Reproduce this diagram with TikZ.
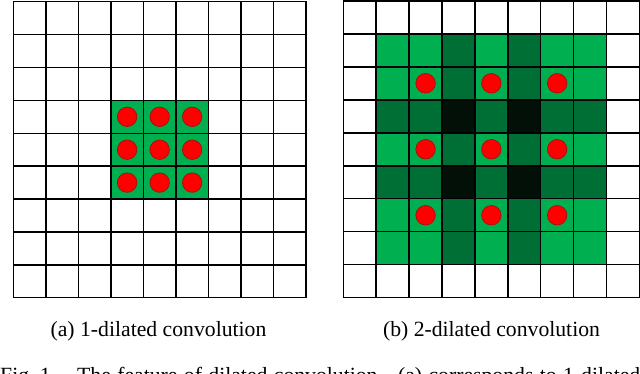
\documentclass[tikz,border=0pt]{standalone}
\usepackage{fontspec}
\setmainfont{Liberation Serif}
\definecolor{gL}{HTML}{00B050}
\definecolor{gD}{HTML}{006F35}
\definecolor{gB}{HTML}{031008}
\definecolor{dotred}{HTML}{FF0000}
\definecolor{dotedge}{HTML}{A01010}
\begin{document}
\begin{tikzpicture}[x=1pt,y=-1pt,
  gridline/.style={line width=1.5pt, black, line cap=rect},
  dot/.style={circle, fill=dotred, draw=dotedge, line width=0.7pt, minimum size=19.5pt, inner sep=0pt},
  caption/.style={font=\fontsize{21.7}{24}\selectfont, inner sep=0pt}]
\useasboundingbox (0,0) rectangle (640,373);
\fill[white] (0,0) rectangle (640,373);
% ---------- left grid ----------
\def\Lx{13.3}\def\Lw{32.52}\def\Ly{1.7}\def\Lh{32.89}
\fill[gL] (\Lx+3*\Lw,\Ly+3*\Lh) rectangle (\Lx+6*\Lw,\Ly+6*\Lh);
\foreach \i in {0,...,9}{
  \draw[gridline] (\Lx+\i*\Lw,\Ly) -- (\Lx+\i*\Lw,\Ly+9*\Lh);
  \draw[gridline] (\Lx,\Ly+\i*\Lh) -- (\Lx+9*\Lw,\Ly+\i*\Lh);
}
\foreach \r in {3,4,5}{
  \foreach \c in {3,4,5}{
    \node[dot] (a\r\c) at (\Lx+\c*\Lw+0.5*\Lw,\Ly+\r*\Lh+0.5*\Lh) {};
  }
}
% ---------- right grid ----------
\def\Rx{343.3}\def\Rw{32.9}\def\Ry{0.8}\def\Rh{32.99}
\fill[gL] (\Rx+1*\Rw,\Ry+1*\Rh) rectangle (\Rx+8*\Rw,\Ry+8*\Rh);
\foreach \k in {3,5}{
  \fill[gD] (\Rx+\k*\Rw,\Ry+1*\Rh) rectangle (\Rx+\k*\Rw+\Rw,\Ry+8*\Rh);
  \fill[gD] (\Rx+1*\Rw,\Ry+\k*\Rh) rectangle (\Rx+8*\Rw,\Ry+\k*\Rh+\Rh);
}
\foreach \r in {3,5}{
  \foreach \c in {3,5}{
    \fill[gB] (\Rx+\c*\Rw,\Ry+\r*\Rh) rectangle (\Rx+\c*\Rw+\Rw,\Ry+\r*\Rh+\Rh);
  }
}
\foreach \i in {0,...,9}{
  \draw[gridline] (\Rx+\i*\Rw,\Ry) -- (\Rx+\i*\Rw,\Ry+9*\Rh);
  \draw[gridline] (\Rx,\Ry+\i*\Rh) -- (\Rx+9*\Rw,\Ry+\i*\Rh);
}
\foreach \r in {2,4,6}{
  \foreach \c in {2,4,6}{
    \node[dot] (b\r\c) at (\Rx+\c*\Rw+0.5*\Rw,\Ry+\r*\Rh+0.5*\Rh) {};
  }
}
% ---------- captions ----------
\node[caption, anchor=base] (capa) at (158.5,336) {(a) 1-dilated convolution};
\node[caption, anchor=base] (capb) at (491.5,336) {(b) 2-dilated convolution};
\begin{scope}
\clip (0,0) rectangle (640,373);
\node[caption, anchor=base west] (fig1) at (0,382) {Fig.~1.};
\node[caption, anchor=base west] (fig2) at (77,382) {\makebox[563pt][s]{The feature of dilated convolution.\hspace{5pt} (a) corresponds to 1-dilated}};
\end{scope}
\end{tikzpicture}
\end{document}
